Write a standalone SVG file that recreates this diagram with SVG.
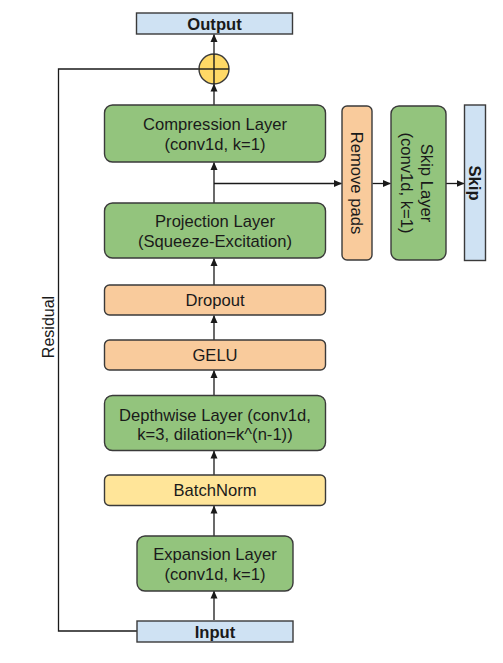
<svg xmlns="http://www.w3.org/2000/svg" width="503" height="663" viewBox="0 0 503 663">
<style>
.box{stroke:#3a3a3a;stroke-width:1.4}
.g{fill:#93c47d}.o{fill:#f9cb9c}.y{fill:#ffe599}.b{fill:#cfe2f3}
text{font-family:"Liberation Sans",Arial,sans-serif;font-size:16.6px;fill:#1a1a1a;text-anchor:middle}
.bold{font-weight:bold}
.c{fill:none;stroke:#1a1a1a;stroke-width:1.3}
</style>
<defs>
<marker id="ah" viewBox="0 0 8 8" refX="7.5" refY="4" markerWidth="8" markerHeight="8" markerUnits="userSpaceOnUse" orient="auto">
<path d="M0,0.5 L8,4 L0,7.5 z" fill="#1a1a1a"/>
</marker>
</defs>
<rect width="503" height="663" fill="#fff"/>
<g id="connectors">
<line class="c" x1="214" y1="620" x2="214" y2="591" marker-end="url(#ah)"/>
<line class="c" x1="214" y1="536" x2="214" y2="506" marker-end="url(#ah)"/>
<line class="c" x1="214" y1="475" x2="214" y2="451" marker-end="url(#ah)"/>
<line class="c" x1="214" y1="395" x2="214" y2="370.5" marker-end="url(#ah)"/>
<line class="c" x1="214" y1="340" x2="214" y2="315.5" marker-end="url(#ah)"/>
<line class="c" x1="214" y1="285" x2="214" y2="258.5" marker-end="url(#ah)"/>
<line class="c" x1="214" y1="203" x2="214" y2="162.5" marker-end="url(#ah)"/>
<line class="c" x1="214" y1="105" x2="214" y2="84" marker-end="url(#ah)"/>
<line class="c" x1="214" y1="54" x2="214" y2="34.5" marker-end="url(#ah)"/>
<polyline class="c" points="214,183.5 341.5,183.5" marker-end="url(#ah)"/>
<line class="c" x1="372.5" y1="183.5" x2="390.5" y2="183.5" marker-end="url(#ah)"/>
<line class="c" x1="446" y1="183.5" x2="464" y2="183.5" marker-end="url(#ah)"/>
<polyline class="c" points="137,631 58.5,631 58.5,69 199,69"/>
<text transform="translate(53.5,327) rotate(-90)" style="font-size:16px">Residual</text>
</g>
<g id="output"><rect class="box b" x="136.5" y="13" width="156" height="21"/><text class="bold" x="214.5" y="29.5">Output</text></g>
<g id="add"><circle cx="214" cy="69" r="15" fill="#ffd966" stroke="#3a3a3a" stroke-width="1.4"/><line x1="199" y1="69" x2="229" y2="69" stroke="#1a1a1a" stroke-width="1.4"/><line x1="214" y1="54" x2="214" y2="84" stroke="#1a1a1a" stroke-width="1.4"/></g>
<g id="compression"><rect class="box g" x="104.5" y="105" width="221" height="57" rx="8"/><text x="215" y="130">Compression Layer</text><text x="215" y="150">(conv1d, k=1)</text></g>
<g id="projection"><rect class="box g" x="104.5" y="203" width="221" height="55" rx="8"/><text x="215" y="227">Projection Layer</text><text x="215" y="246.5">(Squeeze-Excitation)</text></g>
<g id="dropout"><rect class="box o" x="104.5" y="285" width="221" height="30" rx="5"/><text x="215" y="306">Dropout</text></g>
<g id="gelu"><rect class="box o" x="104.5" y="340" width="221" height="30" rx="5"/><text x="215" y="361">GELU</text></g>
<g id="depthwise"><rect class="box g" x="104.5" y="395.5" width="221" height="55" rx="8"/><text x="215" y="420.5">Depthwise Layer (conv1d,</text><text x="215" y="439.5">k=3, dilation=k^(n-1))</text></g>
<g id="batchnorm"><rect class="box y" x="104.5" y="475" width="221" height="30.5" rx="5"/><text x="215" y="496">BatchNorm</text></g>
<g id="expansion"><rect class="box g" x="137" y="536" width="156" height="55" rx="8"/><text x="215" y="560">Expansion Layer</text><text x="215" y="579.5">(conv1d, k=1)</text></g>
<g id="input"><rect class="box b" x="137" y="621" width="156" height="21"/><text class="bold" x="215" y="637.5">Input</text></g>
<g id="removepads"><rect class="box o" x="342" y="106" width="30" height="154" rx="5"/><text transform="translate(351,183) rotate(90)">Remove pads</text></g>
<g id="skiplayer"><rect class="box g" x="391" y="106" width="55" height="154" rx="8"/><text transform="translate(421,183) rotate(90)">Skip Layer</text><text transform="translate(401,183) rotate(90)">(conv1d, k=1)</text></g>
<g id="skip"><rect class="box b" x="464.5" y="105" width="21" height="155.5"/><text class="bold" transform="translate(469,183) rotate(90)">Skip</text></g>
</svg>
